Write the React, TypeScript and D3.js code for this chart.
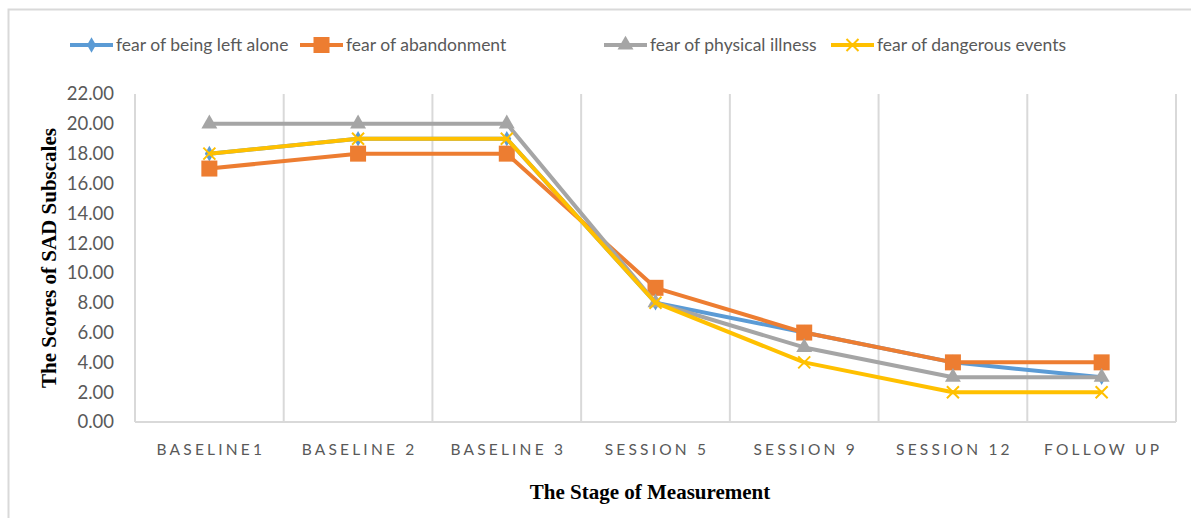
import React, { useEffect, useRef } from 'react';
import * as d3 from 'd3';

const stages = ['BASELINE1', 'BASELINE 2', 'BASELINE 3', 'SESSION 5', 'SESSION 9', 'SESSION 12', 'FOLLOW UP'];
const leftAlone = [18, 19, 19, 8, 6, 4, 3];
const abandonment = [17, 18, 18, 9, 6, 4, 4];
const physicalIllness = [20, 20, 20, 8, 5, 3, 3];
const dangerousEvents = [18, 19, 19, 8, 4, 2, 2];
const yTicks = [0, 2, 4, 6, 8, 10, 12, 14, 16, 18, 20, 22];

const series = [
  { name: 'fear of being left alone', values: leftAlone, color: '#5b9bd5', marker: 'diamond' },
  { name: 'fear of abandonment', values: abandonment, color: '#ed7d31', marker: 'square' },
  { name: 'fear of physical illness', values: physicalIllness, color: '#a5a5a5', marker: 'triangle' },
  { name: 'fear of dangerous events', values: dangerousEvents, color: '#ffc000', marker: 'x' },
];

const legendX = [70, 300, 604, 831];

function drawMarker(g: any, type: string, x: number, y: number, color: string) {
  if (type === 'diamond') {
    g.append('path').attr('d', d3.symbol(d3.symbolDiamond, 70)()).attr('transform', `translate(${x},${y})`).attr('fill', color);
  } else if (type === 'square') {
    g.append('rect').attr('x', x - 8).attr('y', y - 8).attr('width', 16).attr('height', 16).attr('fill', color);
  } else if (type === 'triangle') {
    g.append('path').attr('d', d3.symbol(d3.symbolTriangle, 110)()).attr('transform', `translate(${x},${y})`).attr('fill', color);
  } else {
    g.append('path').attr('d', `M${x - 6},${y - 6}L${x + 6},${y + 6}M${x - 6},${y + 6}L${x + 6},${y - 6}`)
      .attr('stroke', color).attr('stroke-width', 2).attr('fill', 'none');
  }
}

export default function App() {
  const ref = useRef<SVGSVGElement>(null);

  useEffect(() => {
    const svg = d3.select(ref.current);
    svg.selectAll('*').remove();

    const left = 135, right = 1176, top = 94, bottom = 422;

    const x = d3.scaleBand().domain(stages).range([left, right]);
    const y = d3.scaleLinear().domain([0, 22]).range([bottom, top]);

    // outer frame
    svg.append('rect').attr('x', 8.5).attr('y', 9.5).attr('width', 1200).attr('height', 520)
      .attr('fill', 'white').attr('stroke', '#d9d9d9').attr('stroke-width', 2);

    // vertical gridlines at category boundaries
    const bounds = stages.map(s => x(s) as number).concat([right]);
    svg.append('g').selectAll('line').data(bounds).enter().append('line')
      .attr('x1', d => d).attr('x2', d => d).attr('y1', top).attr('y2', bottom)
      .attr('stroke', '#d9d9d9').attr('stroke-width', 2);
    svg.append('line').attr('x1', left).attr('x2', right).attr('y1', bottom).attr('y2', bottom)
      .attr('stroke', '#d9d9d9').attr('stroke-width', 2);

    // y tick labels
    svg.append('g').selectAll('text').data(yTicks).enter().append('text')
      .attr('x', 114).attr('y', d => y(d)).attr('dy', '0.35em').attr('text-anchor', 'end')
      .attr('font-family', 'Lato, sans-serif').attr('font-size', 18.5).attr('fill', '#595959')
      .text(d => d.toFixed(2));

    // x tick labels
    svg.append('g').selectAll('text').data(stages).enter().append('text')
      .attr('x', d => (x(d) as number) + x.bandwidth() / 2 + 1.5).attr('y', 455).attr('text-anchor', 'middle')
      .attr('font-family', 'Lato, sans-serif').attr('font-size', 15.5).attr('letter-spacing', 3.2)
      .attr('fill', '#595959').text(d => d);

    // axis titles
    svg.append('text').attr('x', 650).attr('y', 499).attr('text-anchor', 'middle')
      .attr('font-family', 'Liberation Serif, serif').attr('font-weight', 'bold').attr('font-size', 21)
      .attr('fill', '#000').text('The Stage of Measurement');
    svg.append('text').attr('transform', 'translate(56,258) rotate(-90)').attr('text-anchor', 'middle')
      .attr('font-family', 'Liberation Serif, serif').attr('font-weight', 'bold').attr('font-size', 21)
      .attr('fill', '#000').text('The Scores of SAD Subscales');

    const line = d3.line<number>()
      .x((_, i) => (x(stages[i]) as number) + x.bandwidth() / 2)
      .y(d => y(d));

    series.forEach(s => {
      const g = svg.append('g');
      g.append('path').attr('d', line(s.values)).attr('fill', 'none')
        .attr('stroke', s.color).attr('stroke-width', 4).attr('stroke-linejoin', 'round');
      s.values.forEach((v, i) => {
        drawMarker(g, s.marker, (x(stages[i]) as number) + x.bandwidth() / 2, y(v), s.color);
      });
    });

    // legend
    series.forEach((s, i) => {
      const g = svg.append('g');
      const lx = legendX[i];
      g.append('line').attr('x1', lx).attr('x2', lx + 43).attr('y1', 45).attr('y2', 45)
        .attr('stroke', s.color).attr('stroke-width', 4);
      drawMarker(g, s.marker, lx + 21.5, 45, s.color);
      g.append('text').attr('x', lx + 46).attr('y', 45).attr('dy', '0.35em')
        .attr('font-family', 'Lato, sans-serif').attr('font-size', 17.5).attr('fill', '#595959')
        .text(s.name);
    });
  }, []);

  return <svg ref={ref} width={1191} height={518} style={{ position: 'absolute', left: 0, top: 0 }} />;
}
